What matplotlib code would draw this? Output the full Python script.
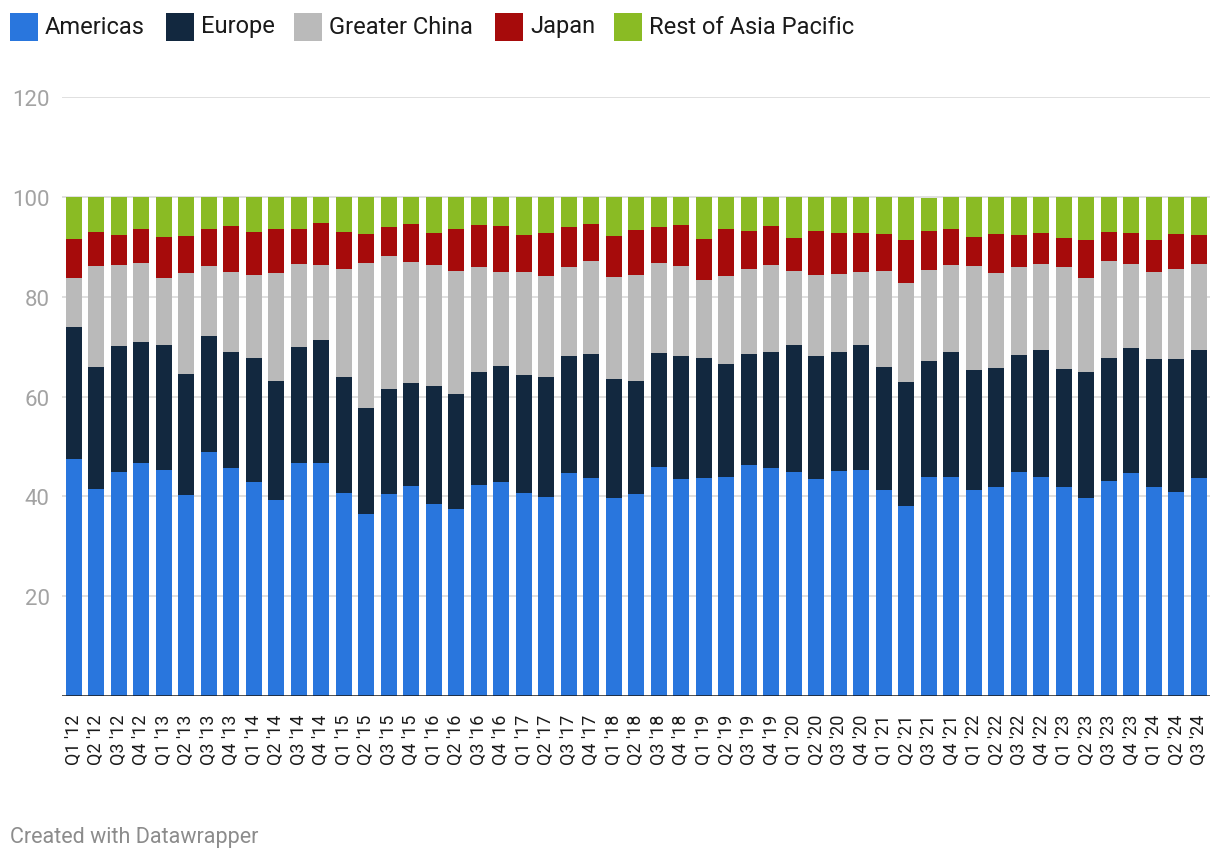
import matplotlib.pyplot as plt
import numpy as np
from matplotlib.patches import Rectangle

plt.rcParams["font.family"] = ["Roboto", "DejaVu Sans"]

# quarters Q1 '12 .. Q3 '24
quarters = [f"Q{q} '{y}" for y in range(12, 25) for q in range(1, 5)][:51]

regions = ["Americas", "Europe", "Greater China", "Japan", "Rest of Asia Pacific"]
colors = ["#2976dd", "#12283f", "#bababa", "#a60b0b", "#8abb24"]

# share of revenue per region (%)
americas = [47.5, 41.5, 44.9, 46.7, 45.3, 40.3, 48.9, 45.7, 42.9, 39.3, 46.7, 46.7, 40.7,
            36.5, 40.5, 42.1, 38.5, 37.5, 42.3, 42.9, 40.7, 39.9, 44.7, 43.7, 39.7, 40.5,
            45.9, 43.5, 43.7, 43.9, 46.3, 45.7, 44.9, 43.5, 45.1, 45.3, 41.3, 38.1, 43.9,
            43.9, 41.3, 41.9, 44.9, 43.9, 41.9, 39.7, 43.1, 44.7, 41.9, 40.9, 43.7]
europe = [26.4, 24.4, 25.2, 24.2, 25.0, 24.2, 23.2, 23.2, 24.8, 23.8, 23.2, 24.6, 23.2,
          21.2, 21.0, 20.6, 23.6, 23.0, 22.6, 23.2, 23.6, 24.0, 23.4, 24.8, 23.8, 22.6,
          22.8, 24.6, 24.0, 22.6, 22.2, 23.2, 25.4, 24.6, 23.8, 25.0, 24.6, 24.8, 23.2,
          25.0, 24.0, 23.8, 23.4, 25.4, 23.6, 25.2, 24.6, 25.0, 25.6, 26.6, 25.6]
greater_china = [9.8, 20.2, 16.2, 15.8, 13.4, 20.2, 14.0, 16.0, 16.6, 21.6, 16.6, 15.0, 21.6,
                 29.0, 26.6, 24.2, 24.2, 24.6, 21.0, 18.8, 20.6, 20.2, 17.8, 18.6, 20.4, 21.2,
                 18.0, 18.0, 15.6, 17.6, 17.0, 17.4, 14.8, 16.2, 15.6, 14.6, 19.2, 19.8, 18.2,
                 17.4, 20.8, 19.0, 17.6, 17.2, 20.4, 18.8, 19.4, 16.8, 17.4, 18.0, 17.2]
japan = [7.8, 6.8, 6.0, 6.8, 8.2, 7.4, 7.4, 9.2, 8.6, 8.8, 7.0, 8.4, 7.4,
         5.8, 5.8, 7.6, 6.4, 8.4, 8.4, 9.2, 7.4, 8.6, 8.0, 7.4, 8.2, 9.0,
         7.2, 8.2, 8.2, 9.4, 7.6, 7.8, 6.6, 8.8, 8.2, 7.8, 7.4, 8.6, 7.8,
         7.2, 5.8, 7.8, 6.4, 6.2, 5.8, 7.6, 5.8, 6.2, 6.4, 7.0, 5.8]
rest_of_apac = [8.5, 7.1, 7.7, 6.5, 8.1, 7.9, 6.5, 5.9, 7.1, 6.5, 6.5, 5.3, 7.1,
                7.5, 6.1, 5.5, 7.3, 6.5, 5.7, 5.9, 7.7, 7.3, 6.1, 5.5, 7.9, 6.7,
                6.1, 5.7, 8.5, 6.5, 6.9, 5.9, 8.3, 6.9, 7.3, 7.3, 7.5, 8.7, 6.6,
                6.5, 8.1, 7.5, 7.7, 7.3, 8.3, 8.7, 7.1, 7.3, 8.7, 7.5, 7.7]

series = [americas, europe, greater_china, japan, rest_of_apac]

W, H = 1220, 862
fig = plt.figure(figsize=(W / 100, H / 100), dpi=100)
ax = fig.add_axes([62 / W, 1 - 697 / H, (1210 - 62) / W, (697 - 98) / H])

x = np.arange(len(quarters))
bottom = np.zeros(len(quarters))
for vals, col in zip(series, colors):
    ax.bar(x, vals, width=0.71, bottom=bottom, color=col, linewidth=0, zorder=2)
    bottom += np.array(vals)

ax.set_ylim(0, 120)
ax.set_xlim(-0.53, 50.49)
ax.set_yticks([20, 40, 60, 80, 100, 120])
ax.yaxis.grid(True, color="#e0e0e0", linewidth=1.4, zorder=0)
ax.set_axisbelow(True)
ax.axhline(0, color="#1a1a1a", linewidth=1.8, zorder=3)

for s in ax.spines.values():
    s.set_visible(False)

ax.tick_params(axis="y", length=0, pad=9, labelsize=16, labelcolor="#a3a3a3")
ax.tick_params(axis="x", length=0, pad=13, labelsize=13, labelcolor="#1a1a1a")
ax.set_xticks(x)
ax.set_xticklabels(quarters, rotation=90, va="top", ha="center")

# legend across the top
legend_x = [10, 166, 294, 495, 614]
for lx, name, col in zip(legend_x, regions, colors):
    fig.add_artist(Rectangle((lx / W, 1 - 42 / H), 28 / W, 28 / H,
                             transform=fig.transFigure, color=col, linewidth=0))
    fig.text((lx + 35) / W, 1 - 27 / H, name, fontsize=17, color="#1a1a1a",
             va="center", ha="left")

fig.text(10 / W, 1 - 838 / H, "Created with Datawrapper", fontsize=15.5,
         color="#8c8c8c", va="center", ha="left")

fig.savefig("out.png", dpi=100)
